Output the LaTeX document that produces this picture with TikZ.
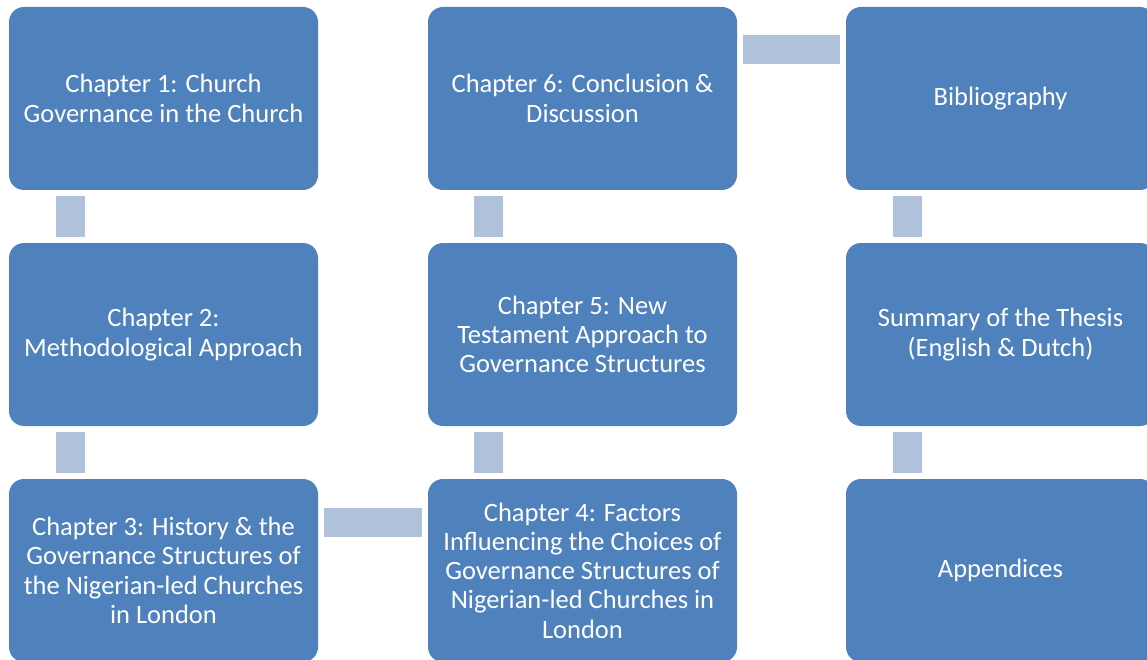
\documentclass[tikz,border=0pt]{standalone}
\usepackage{fontspec}
\setmainfont{Carlito}
\begin{document}
\begin{tikzpicture}[x=1pt,y=-1pt,
  box/.style={rectangle, rounded corners=15pt, fill=boxblue, draw=none,
    minimum width=309pt, minimum height=183pt, inner sep=4pt,
    text=white, align=center, font=\fontsize{26.5}{29.3}\selectfont},
  conn/.style={draw=connblue, line width=29pt, shorten <=6pt, shorten >=5.5pt}]
\definecolor{boxblue}{HTML}{4F81BD}
\definecolor{connblue}{HTML}{B0C1DB}
\useasboundingbox (0,0) rectangle (1147,660);
% boxes, column by column
\node[box] (c1) at (163.5,98.5) {Chapter 1: Church\\Governance in the Church};
\node[box] (c2) at (163.5,334.5) {Chapter 2:\\Methodological Approach};
\node[box] (c3) at (163.5,570.5) {Chapter 3: History \& the\\Governance Structures of\\the Nigerian-led Churches\\in London};
\node[box] (c4) at (582.5,570.5) {Chapter 4: Factors\\Influencing the Choices of\\Governance Structures of\\Nigerian-led Churches in\\London};
\node[box] (c5) at (582.5,334.5) {Chapter 5: New\\Testament Approach to\\Governance Structures};
\node[box] (c6) at (582.5,98.5) {Chapter 6: Conclusion \&\\Discussion};
\node[box] (bib) at (1000.5,98.5) {Bibliography};
\node[box] (sum) at (1000.5,334.5) {Summary of the Thesis\\(English \& Dutch)};
\node[box] (app) at (1000.5,570.5) {Appendices};
% connecting bars
\draw[conn] ([xshift=-93pt]c1.south) -- ([xshift=-93pt]c2.north);
\draw[conn] ([xshift=-93pt]c2.south) -- ([xshift=-93pt]c3.north);
\draw[conn] ([yshift=48pt]c3.east) -- ([yshift=48pt]c4.west);
\draw[conn] ([xshift=-94pt]c4.north) -- ([xshift=-94pt]c5.south);
\draw[conn] ([xshift=-94pt]c5.north) -- ([xshift=-94pt]c6.south);
\draw[conn] ([yshift=48.5pt]c6.east) -- ([yshift=48.5pt]bib.west);
\draw[conn] ([xshift=-93pt]bib.south) -- ([xshift=-93pt]sum.north);
\draw[conn] ([xshift=-93pt]sum.south) -- ([xshift=-93pt]app.north);
\end{tikzpicture}
\end{document}
